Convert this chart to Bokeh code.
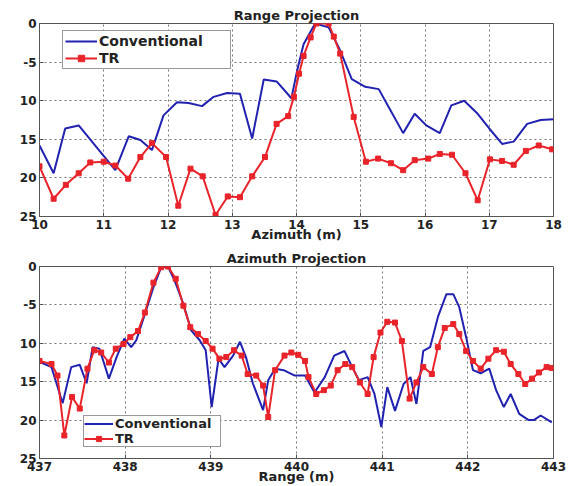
from bokeh.plotting import figure
from bokeh.layouts import column
from bokeh.models import Range1d, FixedTicker, Legend, LegendItem
from bokeh.embed import file_html
from bokeh.resources import INLINE

# ---------------- data: Range Projection (top) ----------------
top_conv_x = [10.0, 10.22, 10.4, 10.61, 11.18, 11.39, 11.57, 11.75, 11.93, 12.14, 12.32, 12.53,
              12.71, 12.92, 13.12, 13.31, 13.49, 13.69, 13.86, 13.92, 14.01, 14.11, 14.29, 14.5,
              14.68, 14.86, 15.07, 15.28, 15.46, 15.66, 15.84, 16.02, 16.23, 16.41, 16.61, 16.82,
              17.0, 17.2, 17.38, 17.59, 17.8, 18.0]
top_conv_y = [-15.8, -19.4, -13.6, -13.2, -19.0, -14.6, -15.1, -16.4, -11.9, -10.2, -10.3, -10.7,
              -9.5, -9.0, -9.1, -14.9, -7.25, -7.5, -9.1, -9.7, -6.1, -2.7, 0.0, -0.5,
              -3.5, -7.2, -8.2, -8.5, -11.2, -14.2, -11.7, -13.2, -14.2, -10.6, -10.0, -11.7,
              -13.6, -15.6, -15.3, -13.0, -12.5, -12.4]

top_tr_x = [10.0, 10.22, 10.41, 10.61, 10.79, 11.0, 11.18, 11.38, 11.57, 11.75, 11.97, 12.16,
            12.35, 12.54, 12.74, 12.93, 13.12, 13.31, 13.51, 13.69, 13.87, 13.96, 14.04, 14.11,
            14.22, 14.31, 14.5, 14.58, 14.68, 14.89, 15.08, 15.27, 15.47, 15.66, 15.84, 16.05,
            16.23, 16.42, 16.63, 16.82, 17.01, 17.2, 17.38, 17.57, 17.77, 17.98]
top_tr_y = [-18.5, -22.7, -20.9, -19.4, -18.0, -17.9, -18.4, -20.1, -17.3, -15.5, -17.3, -23.6,
            -18.8, -19.8, -24.8, -22.4, -22.5, -19.8, -17.3, -13.0, -12.0, -9.5, -6.5, -4.2,
            -1.8, 0.0, 0.0, -1.7, -3.9, -12.1, -17.9, -17.5, -18.1, -19.0, -17.7, -17.5,
            -16.9, -17.0, -19.4, -22.9, -17.6, -17.8, -18.3, -16.5, -15.8, -16.3]

# ---------------- data: Azimuth Projection (bottom) ----------------
bot_conv_x = [437.0, 437.14, 437.27, 437.37, 437.47, 437.55, 437.62, 437.7, 437.81, 437.9, 437.99,
              438.07, 438.13, 438.23, 438.33, 438.42, 438.5, 438.58, 438.68, 438.77, 438.87, 438.94,
              439.01, 439.09, 439.16, 439.26, 439.34, 439.41, 439.49, 439.61, 439.67, 439.75,
              439.85, 439.98, 440.1, 440.21, 440.33, 440.44, 440.56, 440.65, 440.73, 440.83,
              440.91, 440.99, 441.06, 441.15, 441.25, 441.33, 441.4, 441.48, 441.56, 441.65,
              441.75, 441.83, 441.9, 441.98, 442.06, 442.15, 442.25, 442.33, 442.42, 442.5,
              442.6, 442.71, 442.77, 442.85, 442.98]
bot_conv_y = [-12.4, -13.1, -17.8, -13.1, -12.8, -15.2, -10.5, -10.7, -14.6, -11.8, -9.4,
              -10.5, -9.6, -6.2, -2.7, -0.1, 0.0, -1.9, -4.9, -8.3, -9.6, -10.9,
              -18.3, -12.0, -13.1, -11.6, -9.8, -11.8, -15.2, -18.7, -14.8, -13.3,
              -13.5, -14.2, -14.2, -16.4, -14.4, -11.6, -11.0, -13.1, -14.8, -14.4,
              -16.6, -20.9, -15.7, -18.8, -15.3, -14.4, -17.9, -11.0, -10.5, -6.6,
              -3.6, -3.6, -5.3, -9.2, -13.5, -13.9, -13.3, -16.1, -18.3, -16.6,
              -19.2, -20.0, -20.0, -19.4, -20.3]

bot_tr_x = [437.0, 437.14, 437.21, 437.29, 437.38, 437.47, 437.56, 437.64, 437.72, 437.81, 437.89,
            437.98, 438.06, 438.15, 438.23, 438.33, 438.42, 438.5, 438.59, 438.68, 438.76, 438.85,
            438.94, 439.02, 439.1, 439.18, 439.27, 439.36, 439.43, 439.53, 439.61, 439.67, 439.75,
            439.86, 439.94, 440.02, 440.1, 440.14, 440.23, 440.32, 440.4, 440.48, 440.57, 440.65,
            440.74, 440.83, 440.9, 440.98, 441.06, 441.15, 441.23, 441.32, 441.4, 441.48, 441.58,
            441.65, 441.73, 441.83, 441.9, 441.98, 442.06, 442.15, 442.24, 442.33, 442.42, 442.5,
            442.59, 442.67, 442.75, 442.83, 442.92, 442.98]
bot_tr_y = [-12.3, -12.7, -14.2, -22.0, -17.0, -18.5, -13.3, -10.9, -11.2, -12.5, -10.7,
            -10.1, -9.2, -8.4, -6.0, -2.1, -0.1, 0.0, -1.6, -5.1, -7.9, -8.8,
            -9.7, -10.7, -12.0, -11.8, -10.9, -11.6, -14.0, -14.2, -15.5, -19.6, -13.5,
            -11.6, -11.2, -11.5, -12.3, -14.4, -16.6, -16.1, -15.5, -13.5, -12.7, -13.1,
            -15.1, -16.6, -11.8, -8.6, -7.2, -7.3, -9.7, -17.2, -15.1, -13.1, -14.0,
            -10.5, -8.0, -7.5, -8.8, -11.0, -12.3, -13.3, -12.0, -10.9, -11.1, -12.7,
            -14.0, -15.3, -14.6, -13.8, -13.1, -13.2]

y_ticks = [0, -5, -10, -15, -20, -25]
y_tick_labels = ["0", "-5", "10", "15", "20", "25"]
top_x_ticks = [10, 11, 12, 13, 14, 15, 16, 17, 18]
bot_x_ticks = [437, 438, 439, 440, 441, 442, 443]

BLUE = "#2222b0"
RED = "#e8232a"
FONT = "DejaVu Sans"


def make_fig(title, xr, xticks, xlabel, height, border_top):
    p = figure(width=567, height=height, output_backend="svg", toolbar_location=None,
               x_range=Range1d(*xr), y_range=Range1d(-25, 0),
               min_border_left=39, min_border_right=14, min_border_top=border_top,
               min_border_bottom=0)
    p.title.text = title
    p.title.align = "center"
    p.title.text_font = FONT
    p.title.text_font_size = "13px"
    p.title.text_font_style = "bold"
    p.title.text_color = "#222222"
    p.title.offset = 0
    p.title.standoff = 2
    p.outline_line_color = "#555555"
    p.outline_line_width = 1
    p.outline_line_alpha = 1

    p.xaxis.ticker = FixedTicker(ticks=xticks)
    p.yaxis.ticker = FixedTicker(ticks=y_ticks)
    p.yaxis.major_label_overrides = {t: l for t, l in zip(y_ticks, y_tick_labels)}
    p.xaxis.axis_label = xlabel
    for ax in (p.xaxis, p.yaxis):
        ax.major_tick_in = 4
        ax.major_tick_out = 0
        ax.minor_tick_line_color = None
        ax.axis_line_color = "#555555"
        ax.major_tick_line_color = "#555555"
        ax.major_label_text_font = FONT
        ax.major_label_text_font_style = "bold"
        ax.major_label_text_font_size = "12px"
        ax.major_label_text_color = "#222222"
        ax.major_label_standoff = 3
    p.xaxis.axis_label_text_font = FONT
    p.xaxis.axis_label_text_font_style = "bold"
    p.xaxis.axis_label_text_font_size = "13px"
    p.xaxis.axis_label_text_color = "#222222"
    p.xaxis.axis_label_standoff = -5

    for g in (p.xgrid, p.ygrid):
        g.grid_line_color = "#777777"
        g.grid_line_dash = "2 3"
        g.grid_line_width = 1
    return p


top = make_fig("Range Projection", (10, 18), top_x_ticks, "Azimuth (m)", 244, 23)
r1 = top.line(top_conv_x, top_conv_y, line_color=BLUE, line_width=2)
r2 = top.line(top_tr_x, top_tr_y, line_color=RED, line_width=2)
r3 = top.scatter(top_tr_x, top_tr_y, marker="square", size=5, fill_color=RED, line_color=RED)
leg1 = Legend(items=[LegendItem(label="Conventional", renderers=[r1]),
                     LegendItem(label="TR", renderers=[r2, r3])],
              location=(23, 147), border_line_color="#333333", border_line_width=1,
              label_text_font=FONT, label_text_font_style="bold", label_text_font_size="14px",
              label_text_color="#222222",
              glyph_width=32, glyph_height=16, label_standoff=2, spacing=1, padding=2,
              margin=0, label_height=16, label_width=129, background_fill_alpha=1)
top.add_layout(leg1, "center")

bot = make_fig("Azimuth Projection", (437, 443), bot_x_ticks, "Range (m)", 242, 22)
s1 = bot.line(bot_conv_x, bot_conv_y, line_color=BLUE, line_width=2)
s2 = bot.line(bot_tr_x, bot_tr_y, line_color=RED, line_width=2)
s3 = bot.scatter(bot_tr_x, bot_tr_y, marker="square", size=5, fill_color=RED, line_color=RED)
leg2 = Legend(items=[LegendItem(label="Conventional", renderers=[s1]),
                     LegendItem(label="TR", renderers=[s2, s3])],
              location=(44, 11), border_line_color="#333333", border_line_width=1,
              label_text_font=FONT, label_text_font_style="bold", label_text_font_size="13px",
              label_text_color="#222222",
              glyph_width=29, glyph_height=13, label_standoff=2, spacing=0, padding=0,
              margin=0, label_height=13, label_width=105, background_fill_alpha=1)
bot.add_layout(leg2, "center")

layout = column(top, bot, spacing=0)
open("out.html", "w").write(file_html(layout, INLINE))
